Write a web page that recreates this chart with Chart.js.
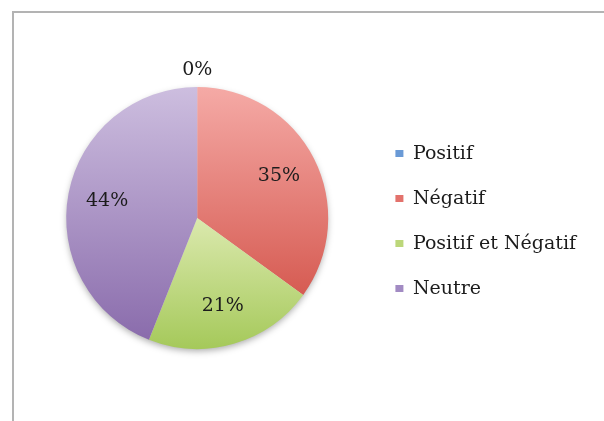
<!DOCTYPE html>
<html>
<head>
<meta charset="utf-8">
<script src="https://cdn.jsdelivr.net/npm/chart.js@4.4.1/dist/chart.umd.min.js"></script>
<style>
  html, body { margin: 0; padding: 0; background: #fff; overflow: hidden; }
  #frame { position: absolute; left: 12px; top: 11px; width: 640px; height: 460px; border: 2px solid #b3b3b3; }
  #pieChart { position: absolute; left: 0; top: 0; }
</style>
</head>
<body>
<div id="frame"></div>
<canvas id="pieChart" width="604" height="421"></canvas>
<script>
var categories = ["Positif", "Négatif", "Positif et Négatif", "Neutre"];
var shares = [0, 35, 21, 44];

// light top / dark bottom of each slice, plus flat legend swatches
var topColors = ["#8db4e2", "#f5aaa6", "#dbe9ae", "#cdbedf"];
var bottomColors = ["#4f81bd", "#d65b52", "#a5c95a", "#8a6cac"];
var legendColors = ["#6a9ad6", "#e3726c", "#bcd77a", "#a28bc3"];

var labelFont = '"DejaVu Serif", serif';
var textColor = '#1c1c1c';

// vertical gradient spanning only the slice's own height
function sliceGradient(context) {
    var chart = context.chart;
    var area = chart.chartArea;
    var i = context.dataIndex;
    if (!area) return topColors[i];
    var cy = (area.top + area.bottom) / 2;
    var r = Math.min(area.right - area.left, area.bottom - area.top) / 2;
    var total = shares.reduce(function(a, b) { return a + b; }, 0);
    var before = shares.slice(0, i).reduce(function(a, b) { return a + b; }, 0);
    var a0 = before / total * 2 * Math.PI;
    var a1 = (before + shares[i]) / total * 2 * Math.PI;
    var ys = [cy, cy - r * Math.cos(a0), cy - r * Math.cos(a1)];
    if (a0 <= 0) ys.push(cy - r);
    if (a0 <= Math.PI && a1 >= Math.PI) ys.push(cy + r);
    var y0 = Math.min.apply(null, ys);
    var y1 = Math.max.apply(null, ys);
    if (y1 - y0 < 1) y1 = y0 + 1;
    var g = chart.ctx.createLinearGradient(0, y0, 0, y1);
    g.addColorStop(0, topColors[i]);
    g.addColorStop(1, bottomColors[i]);
    return g;
}

// soft drop shadow under the whole pie
var pieShadow = {
    id: 'pieShadow',
    beforeDatasetsDraw: function(chart) {
        var arc = chart.getDatasetMeta(0).data[0];
        if (!arc) return;
        var p = arc.getProps(['x', 'y', 'outerRadius'], true);
        var ctx = chart.ctx;
        ctx.save();
        ctx.shadowColor = 'rgba(0,0,0,0.35)';
        ctx.shadowBlur = 7;
        ctx.shadowOffsetY = 3;
        ctx.fillStyle = '#ddd';
        ctx.beginPath();
        ctx.arc(p.x, p.y, p.outerRadius - 1, 0, 2 * Math.PI);
        ctx.fill();
        ctx.restore();
    }
};

// percentage labels, inside the slices (empty slices sit above the rim)
var sliceLabels = {
    id: 'sliceLabels',
    afterDatasetsDraw: function(chart) {
        var ctx = chart.ctx;
        var total = shares.reduce(function(a, b) { return a + b; }, 0);
        ctx.save();
        ctx.font = '19px ' + labelFont;
        ctx.fillStyle = textColor;
        ctx.textAlign = 'center';
        ctx.textBaseline = 'middle';
        chart.getDatasetMeta(0).data.forEach(function(arc, i) {
            var p = arc.getProps(['x', 'y', 'startAngle', 'endAngle', 'outerRadius'], true);
            var mid = (p.startAngle + p.endAngle) / 2;
            var dist = shares[i] === 0 ? p.outerRadius + 17 : p.outerRadius * 0.7;
            var pct = Math.round(shares[i] / total * 100) + '%';
            ctx.fillText(pct, p.x + Math.cos(mid) * dist, p.y + Math.sin(mid) * dist);
        });
        ctx.restore();
    }
};

new Chart(document.getElementById('pieChart'), {
    type: 'pie',
    data: {
        labels: categories,
        datasets: [{
            data: shares,
            backgroundColor: sliceGradient,
            borderWidth: 0
        }]
    },
    options: {
        responsive: false,
        animation: false,
        events: [],
        layout: { padding: { left: 25, top: 87, bottom: 72, right: 18 } },
        plugins: {
            tooltip: { enabled: false },
            legend: {
                position: 'right',
                align: 'center',
                title: { display: true, text: ' ', font: { size: 1 }, padding: { top: 0, bottom: 5 } },
                labels: {
                    boxWidth: 8,
                    boxHeight: 7,
                    padding: 26,
                    color: textColor,
                    font: { family: labelFont, size: 19 },
                    generateLabels: function(chart) {
                        var items = Chart.overrides.pie.plugins.legend.labels.generateLabels(chart);
                        items.forEach(function(item, i) {
                            item.fillStyle = legendColors[i];
                            item.strokeStyle = legendColors[i];
                            item.lineWidth = 0;
                        });
                        return items;
                    }
                }
            }
        }
    },
    plugins: [pieShadow, sliceLabels]
});
</script>
</body>
</html>
